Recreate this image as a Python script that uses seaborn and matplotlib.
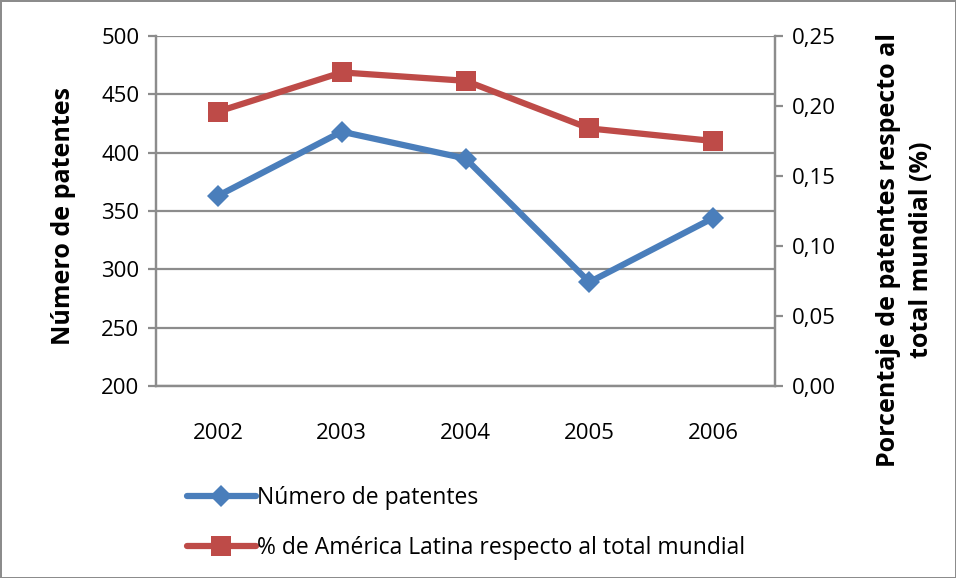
import matplotlib
matplotlib.use('Agg')
import matplotlib.pyplot as plt
import seaborn as sns
import pandas as pd

# Data
years = ['2002', '2003', '2004', '2005', '2006']
patentes = [363, 418, 395, 289, 344]
porcentaje = [0.196, 0.224, 0.218, 0.184, 0.175]

label_pat = 'Número de patentes'
label_pct = '% de América Latina respecto al total mundial'

df = pd.DataFrame({'year': years, 'patentes': patentes, 'porcentaje': porcentaje})

sns.set_style('white')
plt.rcParams['font.family'] = ['Open Sans', 'DejaVu Sans']
plt.rcParams['text.color'] = 'black'
plt.rcParams['xtick.color'] = 'black'
plt.rcParams['ytick.color'] = 'black'

blue = '#4A7EBB'
red = '#BE4B48'
grid_gray = '#8C8C8C'

fig = plt.figure(figsize=(9.56, 5.78), dpi=100, edgecolor='#8C8C8C', linewidth=2)
ax = fig.add_axes([0.1632, 0.3322, 0.6475, 0.6055])
ax2 = ax.twinx()

sns.lineplot(data=df, x='year', y='patentes', ax=ax, color=blue, linewidth=4.5,
             marker='D', markersize=11, markeredgewidth=0, label=label_pat, legend=False)
sns.lineplot(data=df, x='year', y='porcentaje', ax=ax2, color=red, linewidth=4.5,
             marker='s', markersize=15, markeredgewidth=0, label=label_pct, legend=False)

ax.set_xlim(-0.5, 4.5)
ax.set_ylim(200, 500)
ax.set_yticks(range(200, 501, 50))
ax2.set_ylim(0, 0.25)
ax2.set_yticks([0, 0.05, 0.10, 0.15, 0.20, 0.25])
ax2.set_yticklabels([f'{v:.2f}'.replace('.', ',') for v in ax2.get_yticks()])

ax.yaxis.grid(True, color=grid_gray, linewidth=1.6)
ax.xaxis.grid(False)
ax2.grid(False)

for a in (ax, ax2):
    for s in a.spines.values():
        s.set_color(grid_gray)
        s.set_linewidth(1.6)
    a.spines['top'].set_visible(False)

# category boundary ticks on x axis
ax.set_xticks([i - 0.5 for i in range(len(years) + 1)], minor=True)
ax.tick_params(axis='x', which='minor', length=7, width=1.6, color=grid_gray, direction='out')
ax.tick_params(axis='x', which='major', length=0, pad=27, labelsize=16)
ax.tick_params(axis='y', length=6, width=1.6, color=grid_gray, direction='out', labelsize=16,
               pad=6, labelcolor='black')
ax2.tick_params(axis='y', length=6, width=1.6, color=grid_gray, direction='out', labelsize=16,
                pad=6, labelcolor='black')

ax.set_xlabel('')
ax.set_ylabel('')
ax2.set_ylabel('')
fig.text(63 / 956, 1 - 216 / 578, label_pat, rotation=90, ha='center', va='center',
         fontsize=18, fontweight='bold')
fig.text(905 / 956, 1 - 250 / 578, 'Porcentaje de patentes respecto al\ntotal mundial (%)',
         rotation=90, ha='center', va='center', multialignment='center',
         fontsize=18, fontweight='bold', linespacing=1.45)

h1, l1 = ax.get_legend_handles_labels()
h2, l2 = ax2.get_legend_handles_labels()
fig.legend(h1 + h2, l1 + l2, loc='upper left', bbox_to_anchor=(0.186, 0.175),
           frameon=False, fontsize=16.5, handlelength=3.0, handletextpad=0.05,
           labelspacing=1.15, borderaxespad=0)

fig.savefig('out.png', dpi=100, edgecolor=fig.get_edgecolor())
